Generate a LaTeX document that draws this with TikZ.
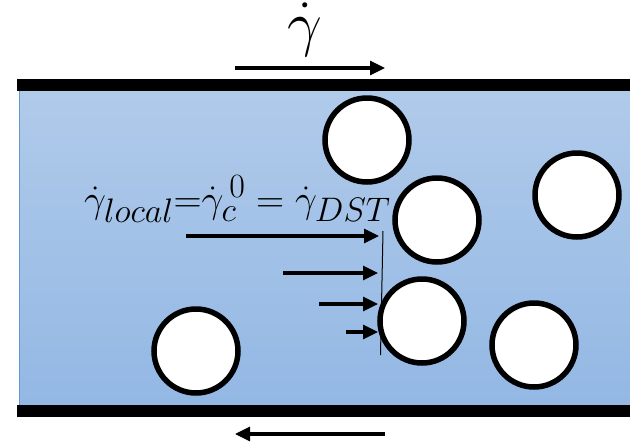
\RequirePackage{fix-cm}
\documentclass[tikz,border=0pt]{standalone}
\usepackage{amsmath}
\usetikzlibrary{arrows.meta}
\DeclareMathSizes{39}{39}{34}{26}
\DeclareMathSizes{62}{62}{48}{36}
\definecolor{fluidtop}{RGB}{176,202,234}
\definecolor{fluidbot}{RGB}{147,184,228}
\definecolor{fluidedge}{RGB}{100,150,210}
\tikzset{
  particle/.style={circle, draw=black, fill=white, line width=5.5pt, minimum size=84pt, inner sep=0pt},
  wall/.style={fill=black},
  velarrow/.style={line width=3.2pt, -{Triangle[length=15pt,width=14pt]}},
  thinline/.style={line width=1pt}
}
\begin{document}
\begin{tikzpicture}[x=1pt,y=-1pt]
\useasboundingbox (0,0) rectangle (630,445);
% fluid
\fill[top color=fluidtop, bottom color=fluidbot] (19,91) rectangle (630,405);
\draw[fluidedge, line width=1pt] (19.5,91) -- (19.5,405);
% walls
\fill[wall] (17,79) rectangle (630,91);
\fill[wall] (17,405) rectangle (630,417);
% particles
\node[particle] (p1) at (367,140) {};
\node[particle] (p2) at (437,220) {};
\node[particle] (p3) at (422,321) {};
\node[particle] (p4) at (577,195) {};
\node[particle] (p5) at (534,345) {};
\node[particle] (p6) at (196,351) {};
% top shear label and arrows
\node[anchor=base, inner sep=0pt] (gtop) at (305,44) {\fontsize{62}{70}\selectfont$\dot{\gamma}$};
\coordinate (ta) at (235,68);
\coordinate (tb) at (385,68);
\draw[velarrow] (ta) -- (tb);
\coordinate (ba) at (385,434);
\coordinate (bb) at (235,434);
\draw[velarrow] (ba) -- (bb);
% formula
\node[anchor=base west, inner sep=0pt] (formula) at (84,212)
  {\fontsize{39}{44}\selectfont$\dot{\gamma}_{local}{=}\dot{\gamma}_{c}^{\,0} = \dot{\gamma}_{DST}$};
% velocity profile
\coordinate (lt) at (383,231);
\coordinate (lb) at (380.5,355);
\draw[thinline] (lt) -- (lb);
\coordinate (a1s) at (186,236);
\coordinate (a1e) at (379,236);
\coordinate (a2s) at (283,273);
\coordinate (a2e) at (378,273);
\coordinate (a3s) at (319,304);
\coordinate (a3e) at (378,304);
\coordinate (a4s) at (346,332);
\coordinate (a4e) at (378,332);
\draw[velarrow] (a1s) -- (a1e);
\draw[velarrow] (a2s) -- (a2e);
\draw[velarrow] (a3s) -- (a3e);
\draw[velarrow] (a4s) -- (a4e);
\end{tikzpicture}
\end{document}
